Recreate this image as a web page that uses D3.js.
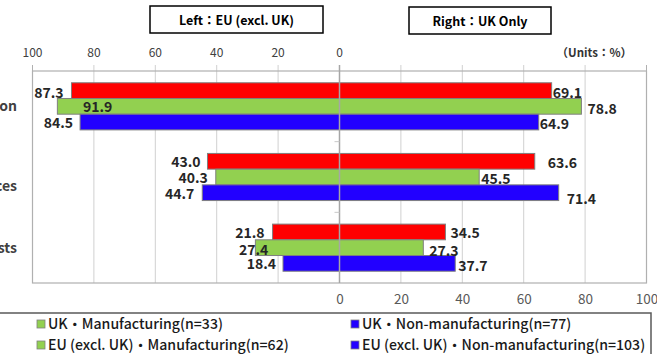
<!DOCTYPE html>
<html>
<head>
<meta charset="utf-8">
<script src="https://cdn.jsdelivr.net/npm/d3@7"></script>
<style>
  html, body { margin: 0; padding: 0; background: #fff; overflow: hidden; }
  svg { display: block; font-family: "Noto Sans CJK JP", "Noto Sans", sans-serif; }
</style>
</head>
<body>
<div id="chart"></div>
<script>
// data
const categories = ["Production", "Sales\nvolumes and prices", "Costs"];
const seriesNames = ["All industries", "Manufacturing", "Non-manufacturing"];
const euValues = [[87.3, 91.9, 84.5], [43.0, 40.3, 44.7], [21.8, 27.4, 18.4]];
const ukValues = [[69.1, 78.8, 64.9], [63.6, 45.5, 71.4], [34.5, 27.3, 37.7]];
const tickValues = [0, 20, 40, 60, 80, 100];
const legendLabels = [
    "UK・Manufacturing(n=33)", "UK・Non-manufacturing(n=77)",
    "EU (excl. UK)・Manufacturing(n=62)", "EU (excl. UK)・Non-manufacturing(n=103)"
];
const legendSeries = [1, 2, 1, 2];

// label placement tweaks (gap from bar end, vertical shift), as in the original
const euGap = [[8, -55, 7], [7, 8, 8], [8, -13, 7]];
const euDy = [[2, 0.5, 1], [0.5, 1, 1], [1, 2.5, 0.5]];
const ukGap = [[1, 6, 1], [13, 2, 8], [5, 6, 3]];
const ukDy = [[2, 2.5, 2], [1.5, 2, 6], [1, 3.5, 2.5]];

const width = 657, height = 354;
const colors = ["#ff0000", "#92d050", "#2200ff"];

const svg = d3.select("#chart").append("svg")
    .attr("width", width)
    .attr("height", height);

const x0 = 339.5, plotTop = 71, plotBottom = 283;
const xL = d3.scaleLinear().domain([0, 100]).range([x0, 32.5]);
const xR = d3.scaleLinear().domain([0, 100]).range([x0, 646.5]);
const y = d3.scaleBand().domain(d3.range(categories.length)).range([plotTop, plotBottom]);
const ySub = d3.scaleBand().domain(d3.range(seriesNames.length))
    .range([0, y.bandwidth()]).paddingOuter(0.75).paddingInner(0);

// title boxes
const titles = [
    { text: "Left：EU (excl. UK)", x: 150, w: 173, y: 6 },
    { text: "Right：UK Only", x: 409, w: 142, y: 7 }
];
titles.forEach(t => {
    svg.append("rect").attr("x", t.x).attr("y", t.y).attr("width", t.w).attr("height", 27)
        .attr("fill", "#fff").attr("stroke", "#000").attr("stroke-width", 1.5);
    svg.append("text").attr("x", t.x + t.w / 2).attr("y", t.y + 18.5)
        .attr("text-anchor", "middle").style("font-size", "12.5px").style("font-weight", "bold")
        .attr("fill", "#000").text(t.text);
});

svg.append("text").attr("x", 632).attr("y", 57).attr("text-anchor", "end")
    .style("font-size", "11.5px").style("font-weight", "bold").attr("fill", "#333").text("（Units：%）");

// grid lines
const grid = svg.append("g");
tickValues.forEach(v => {
    [xL, xR].forEach(s => {
        if (v === 0) return;
        grid.append("line").attr("x1", s(v)).attr("x2", s(v))
            .attr("y1", plotTop - 6).attr("y2", plotBottom)
            .attr("stroke", "#d0d0d0").attr("stroke-width", 1);
    });
});

// frame
svg.append("rect").attr("x", xL(100)).attr("y", plotTop)
    .attr("width", xR(100) - xL(100)).attr("height", plotBottom - plotTop)
    .attr("fill", "none").attr("stroke", "#b0b0b0").attr("stroke-width", 1.2);
svg.append("line").attr("x1", xL(100)).attr("x2", xL(100)).attr("y1", plotTop - 6).attr("y2", plotTop)
    .attr("stroke", "#b0b0b0");
svg.append("line").attr("x1", xR(100)).attr("x2", xR(100)).attr("y1", plotTop - 6).attr("y2", plotTop)
    .attr("stroke", "#b0b0b0");

// bars
const catG = svg.append("g").selectAll("g")
    .data(categories)
    .enter()
    .append("g")
    .attr("transform", (d, i) => `translate(0,${y(i)})`);

catG.each(function (c, i) {
    const g = d3.select(this);
    g.selectAll("rect.eu").data(euValues[i]).enter().append("rect")
        .attr("x", d => xL(d)).attr("y", (d, j) => ySub(j))
        .attr("width", d => x0 - xL(d)).attr("height", ySub.bandwidth())
        .attr("fill", (d, j) => colors[j]).attr("stroke", "#7f7f7f").attr("stroke-width", 1);
    g.selectAll("rect.uk").data(ukValues[i]).enter().append("rect")
        .attr("x", x0).attr("y", (d, j) => ySub(j))
        .attr("width", d => xR(d) - x0).attr("height", ySub.bandwidth())
        .attr("fill", (d, j) => colors[j]).attr("stroke", "#7f7f7f").attr("stroke-width", 1);
});

// zero line and category ticks
svg.append("line").attr("x1", x0).attr("x2", x0).attr("y1", plotTop - 6).attr("y2", plotBottom)
    .attr("stroke", "#a6a6a6").attr("stroke-width", 1.5);
d3.range(1, categories.length).forEach(i => {
    svg.append("line").attr("x1", x0 - 5).attr("x2", x0).attr("y1", y(i)).attr("y2", y(i))
        .attr("stroke", "#c8c8c8");
});

// value labels
catG.each(function (c, i) {
    const g = d3.select(this);
    g.selectAll("text.eu").data(euValues[i]).enter().append("text")
        .attr("x", (d, j) => xL(d) - euGap[i][j])
        .attr("y", (d, j) => ySub(j) + ySub.bandwidth() / 2 + euDy[i][j] + 5)
        .attr("text-anchor", "end")
        .style("font-size", "14px").style("font-weight", "bold").attr("fill", "#262626")
        .text(d => d.toFixed(1));
    g.selectAll("text.uk").data(ukValues[i]).enter().append("text")
        .attr("x", (d, j) => xR(d) + ukGap[i][j])
        .attr("y", (d, j) => ySub(j) + ySub.bandwidth() / 2 + ukDy[i][j] + 5)
        .style("font-size", "14px").style("font-weight", "bold").attr("fill", "#262626")
        .text(d => d.toFixed(1));
});

// category labels (cut off at the left edge as in the original)
categories.forEach((c, i) => {
    const lines = c.split("\n");
    const cy = y(i) + y.bandwidth() / 2;
    const last = svg.append("text")
        .attr("x", 17).attr("y", cy + 5 + (lines.length - 1) * 8.5)
        .attr("text-anchor", "end")
        .style("font-size", "14px").style("font-weight", "bold").attr("fill", "#404040")
        .text(lines[lines.length - 1]);
    if (lines.length > 1) {
        const w = last.node().getComputedTextLength();
        svg.append("text")
            .attr("x", 17 - w / 2).attr("y", cy + 5 - 8.5)
            .attr("text-anchor", "middle")
            .style("font-size", "14px").style("font-weight", "bold").attr("fill", "#404040")
            .text(lines[0]);
    }
});

// top axis labels
tickValues.forEach(v => {
    const xx = v === 0 ? x0 : xL(v);
    svg.append("text").attr("x", xx).attr("y", 57).attr("text-anchor", "middle")
        .style("font-size", "12px").attr("fill", "#404040").text(v);
});

// bottom axis
const bottomAxis = d3.axisBottom(xR).tickValues(tickValues).tickSize(0).tickPadding(11);
const ax = svg.append("g").attr("transform", `translate(0,${plotBottom})`).call(bottomAxis);
ax.select(".domain").remove();
ax.selectAll("text").style("font-size", "13.5px").attr("fill", "#595959")
    .style("font-family", "'Noto Sans CJK JP', 'Noto Sans', sans-serif");

// legend
svg.append("rect").attr("x", -5).attr("y", 313).attr("width", 656).attr("height", 60)
    .attr("fill", "#fff").attr("stroke", "#595959").attr("stroke-width", 1.5);
const legendCols = [37, 351];
const legendRows = [324, 345];
legendLabels.forEach((lab, k) => {
    const lx = legendCols[k % 2], ly = legendRows[Math.floor(k / 2)];
    svg.append("rect").attr("x", lx).attr("y", ly - 4).attr("width", 8).attr("height", 8)
        .attr("fill", colors[legendSeries[k]]).attr("stroke", "#7f7f7f").attr("stroke-width", 0.8);
    svg.append("text").attr("x", lx + 11).attr("y", ly + 5)
        .style("font-size", "14.1px").style("font-weight", "500").attr("fill", "#1a1a1a").text(lab);
});
</script>
</body>
</html>
